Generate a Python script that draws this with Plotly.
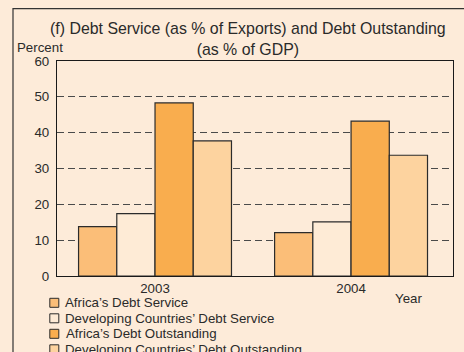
import plotly.graph_objects as go

years = ["2003", "2004"]
series_names = [
    "Africa\u2019s Debt Service",
    "Developing Countries\u2019 Debt Service",
    "Africa\u2019s Debt Outstanding",
    "Developing Countries\u2019 Debt Outstanding",
]
africa_service = [13.8, 12.1]
developing_service = [17.4, 15.1]
africa_outstanding = [48.3, 43.2]
developing_outstanding = [37.7, 33.7]
y_ticks = [0, 10, 20, 30, 40, 50, 60]

colors = ["#FBBE78", "#FEEBD6", "#F9AD4E", "#FDD39F"]
bg = "#FDEBD9"
font_family = "Liberation Sans, Arial, sans-serif"
text_color = "#2a2a2a"
label_size = 13.3

W, H = 464, 352
ml, mr, mt, mb = 56.7, 11.3, 60.7, 76.3
pw = W - ml - mr
ph = H - mt - mb


def px_x(x):
    return (x - ml) / pw


def px_y(y):
    return (H - mb - y) / ph


fig = go.Figure()
for name, vals, col in zip(
    series_names,
    [africa_service, developing_service, africa_outstanding, developing_outstanding],
    colors,
):
    fig.add_trace(
        go.Bar(
            x=years,
            y=vals,
            name=name,
            marker=dict(color=col, line=dict(color="#2b2b2b", width=1.2)),
        )
    )

fig.update_layout(
    width=W,
    height=H,
    margin=dict(l=ml, r=mr, t=mt, b=mb, autoexpand=False),
    paper_bgcolor=bg,
    plot_bgcolor=bg,
    barmode="group",
    bargap=0.22,
    bargroupgap=0,
    font=dict(family=font_family, size=label_size, color=text_color),
    showlegend=False,
    xaxis=dict(
        range=[-0.5, 1.52],
        showline=True,
        mirror=True,
        linecolor="#1a1a1a",
        linewidth=1.3,
        showgrid=False,
        ticks="",
        tickfont=dict(size=label_size, color=text_color),
    ),
    yaxis=dict(
        range=[0, 60],
        tickvals=y_ticks,
        showline=True,
        mirror=True,
        linecolor="#1a1a1a",
        linewidth=1.3,
        showgrid=True,
        gridcolor="#4a4a4a",
        gridwidth=1.3,
        griddash="7px,4px",
        zeroline=False,
        ticks="",
        ticklabelstandoff=4,
        tickfont=dict(size=label_size, color=text_color),
    ),
)

# Chart title (two lines)
fig.add_annotation(
    text="(f) Debt Service (as % of Exports) and Debt Outstanding<br>(as % of GDP)",
    xref="paper", yref="paper",
    x=px_x(247.5), y=px_y(18),
    xanchor="center", yanchor="top",
    showarrow=False,
    font=dict(size=15.9, color=text_color),
    align="center",
)
fig.add_annotation(
    text="Percent",
    xref="paper", yref="paper",
    x=px_x(40), y=px_y(47),
    xanchor="center", yanchor="middle",
    showarrow=False,
    font=dict(size=label_size, color=text_color),
)
fig.add_annotation(
    text="Year",
    xref="paper", yref="paper",
    x=px_x(408), y=px_y(298),
    xanchor="center", yanchor="middle",
    showarrow=False,
    font=dict(size=label_size, color=text_color),
)

# Legend: small swatches with labels, stacked under the plot
legend_top = 302.5
legend_step = 15.5
for i, (name, col) in enumerate(zip(series_names, colors)):
    cy = legend_top + i * legend_step
    fig.add_shape(
        type="rect",
        xref="paper", yref="paper",
        x0=px_x(49.5), x1=px_x(58.5),
        y0=px_y(cy + 4.5), y1=px_y(cy - 4.5),
        line=dict(color="#2b2b2b", width=1),
        fillcolor=col,
    )
    fig.add_annotation(
        text=name,
        xref="paper", yref="paper",
        x=px_x(62.5 if i != 2 else 63.5), y=px_y(cy),
        xanchor="left", yanchor="middle",
        showarrow=False,
        font=dict(size=label_size, color=text_color),
    )

# Outer frame around the panel
fig.add_shape(
    type="rect",
    xref="paper", yref="paper",
    x0=px_x(12.7), x1=px_x(520),
    y0=px_y(420), y1=px_y(8.3),
    line=dict(color="#333333", width=1.2),
    fillcolor="rgba(0,0,0,0)",
    layer="below",
)

fig.write_html("out.html")
